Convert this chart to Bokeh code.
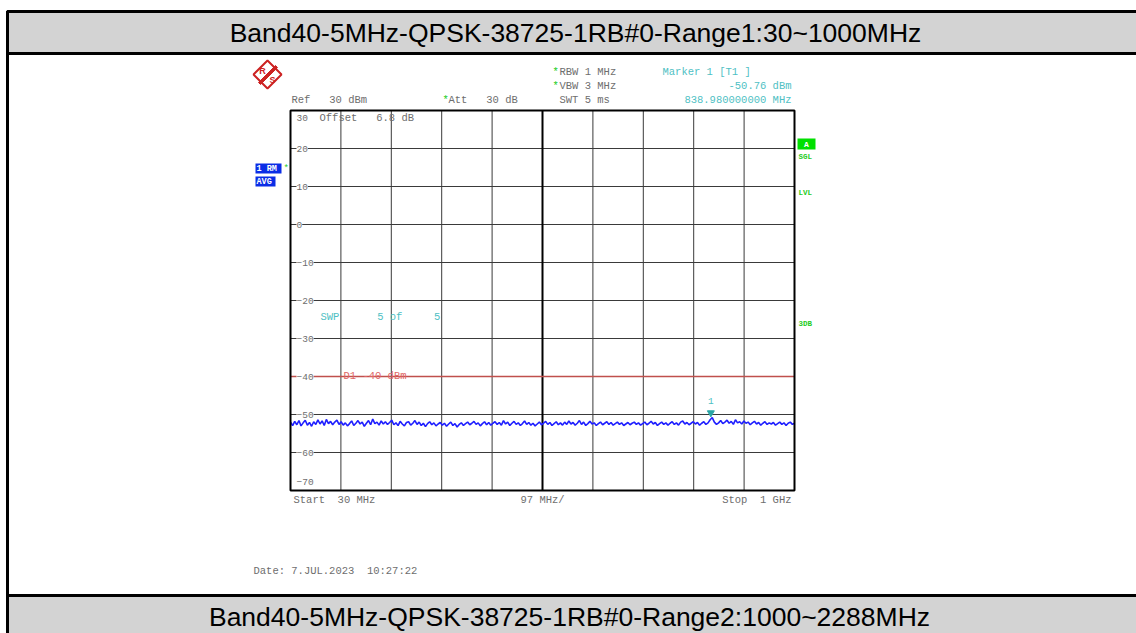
import numpy as np
from bokeh.plotting import figure
from bokeh.models import (Label, LabelSet, BoxAnnotation, PolyAnnotation,
                          ColumnDataSource, Range1d)
from bokeh.embed import file_html
from bokeh.resources import INLINE
from bokeh.core.properties import value

# ---------------- data ----------------
title_top = "Band40-5MHz-QPSK-38725-1RB#0-Range1:30~1000MHz"
title_bottom = "Band40-5MHz-QPSK-38725-1RB#0-Range2:1000~2288MHz"
start_mhz = 30
stop_mhz = 1000
span_per_div = 97
ref_level = 30
bottom_level = -70
y_ticks = [30, 20, 10, 0, -10, -20, -30, -40, -50, -60, -70]
display_line = -40
marker_freq = 838.98
marker_level = -50.76
trace_dbm = [
    -52.0, -52.9, -51.8, -52.7, -51.6, -53.0, -52.2, -51.5, -52.8, -52.1, -53.1, -51.9,
    -52.6, -51.4, -52.5, -51.7, -52.9, -51.3, -52.4, -51.8, -52.7, -52.0, -51.5, -52.6,
    -51.9, -52.8, -52.2, -53.0, -52.4, -51.7, -52.9, -52.3, -51.6, -52.5, -52.0, -53.1,
    -52.3, -51.6, -52.7, -51.2, -52.4, -52.0, -52.8, -51.7, -52.5, -51.9, -52.6, -52.1,
    -51.5, -52.7, -52.2, -52.9, -51.8, -52.5, -53.0, -52.1, -51.9, -52.8, -52.3, -51.6,
    -52.6, -52.0, -52.9, -52.3, -53.2, -52.4, -51.9, -52.7, -52.2, -53.0, -52.5, -52.1,
    -52.8, -52.3, -53.1, -52.5, -52.0, -52.9, -52.4, -53.3, -52.6, -52.2, -52.9, -52.4,
    -52.0, -52.7, -52.3, -51.8, -52.6, -52.2, -53.0, -52.4, -51.9, -52.7, -52.1, -52.8,
    -52.3, -51.9, -52.6, -52.1, -52.8, -51.6, -52.5, -52.0, -52.9, -52.3, -51.8, -52.6,
    -52.2, -52.9, -52.4, -51.7, -52.6, -52.1, -52.8, -52.3, -53.0, -52.5, -52.0, -52.7,
    -52.3, -51.8, -52.6, -52.1, -52.9, -52.4, -51.9, -52.7, -52.2, -52.8, -52.0, -52.6,
    -51.7, -52.5, -52.1, -52.8, -52.3, -51.6, -52.6, -52.0, -52.9, -52.4, -51.8, -52.5,
    -52.2, -52.9, -52.4, -52.0, -52.7, -52.3, -51.9, -52.6, -52.1, -52.8, -52.4, -52.0,
    -52.6, -52.2, -52.9, -52.5, -52.1, -52.7, -52.3, -52.0, -52.6, -52.2, -52.8, -52.4,
    -52.0, -52.7, -52.3, -51.8, -52.5, -52.1, -52.9, -52.4, -52.0, -52.6, -52.2, -52.8,
    -52.3, -51.9, -52.6, -52.2, -52.8, -52.0, -51.7, -52.5, -52.1, -52.7, -52.3, -51.9,
    -52.5, -52.1, -52.8, -52.3, -51.9, -52.6, -52.2, -51.4, -50.8, -52.0, -52.6, -52.2,
    -51.6, -52.4, -52.0, -51.5, -52.3, -51.8, -52.6, -51.4, -52.2, -51.9, -52.5, -51.7,
    -52.3, -52.0, -52.7, -52.2, -51.8, -52.5, -52.1, -52.8, -52.3, -51.9, -52.6, -52.2,
    -52.5, -52.1, -52.8, -52.4, -52.0, -52.6, -52.2, -52.9, -52.3, -52.0, -52.6, -52.3,
]
trace_freq = np.linspace(start_mhz, stop_mhz, len(trace_dbm))

# ---------------- layout (canvas pixels) ----------------
W, H = 1136, 633
PX_L, PX_R, PY_T, PY_B = 290, 794, 110, 490
MONO = "Liberation Mono"
GRAY = "#6e6e6e"
CYAN = "#4fbfc4"
GREEN = "#22cc22"
NB = "\u00a0"


def dx(px):
    return start_mhz + (px - PX_L) / (PX_R - PX_L) * (stop_mhz - start_mhz)


def dy(py):
    return ref_level - (py - PY_T) / (PY_B - PY_T) * (ref_level - bottom_level)


p = figure(width=W, height=H, output_backend="svg", toolbar_location=None,
           title=None,
           x_range=Range1d(dx(0), dx(W)), y_range=Range1d(dy(H), dy(0)),
           x_axis_location=None, y_axis_location=None,
           min_border=0)
p.background_fill_color = "white"
p.border_fill_color = "white"
p.outline_line_color = None
p.xgrid.visible = False
p.ygrid.visible = False


def box(left, right, top, bottom, fill=None, line="black", lw=3):
    p.add_layout(BoxAnnotation(left=left, right=right, top=top, bottom=bottom,
                               fill_color=fill if fill else "white",
                               fill_alpha=1 if fill else 0,
                               line_color=line, line_alpha=1 if line else 0,
                               line_width=lw))


# table decoration
box(dx(7), dx(1200), dy(11), dy(700))
box(dx(7), dx(1200), dy(11), dy(53), fill="#d3d3d3")
box(dx(7), dx(1200), dy(595), dy(700), fill="#d3d3d3")
p.add_layout(Label(x=dx(575), y=dy(32), text=title_top, text_align="center",
                   text_baseline="middle", text_font="Liberation Sans",
                   text_font_size="26.5px", text_color="black"))
p.add_layout(Label(x=dx(569), y=dy(616), text=title_bottom, text_align="center",
                   text_baseline="middle", text_font="Liberation Sans",
                   text_font_size="26.5px", text_color="black"))

# grid inside the spectrum frame
x_grid = [start_mhz + span_per_div * k for k in range(1, 10)]
p.segment(x0=x_grid, y0=[bottom_level] * len(x_grid), x1=x_grid,
          y1=[ref_level] * len(x_grid), line_color="#3a3a3a", line_width=1)
y_grid = y_ticks[1:-1]
p.segment(x0=[start_mhz] * len(y_grid), y0=y_grid, x1=[stop_mhz] * len(y_grid),
          y1=y_grid, line_color="#3a3a3a", line_width=1)
p.segment(x0=[start_mhz + span_per_div * 5], y0=[bottom_level],
          x1=[start_mhz + span_per_div * 5], y1=[ref_level],
          line_color="black", line_width=2)

# logo
p.add_layout(PolyAnnotation(xs=[dx(267), dx(281), dx(267), dx(253)],
                            ys=[dy(60), dy(74), dy(88), dy(74)],
                            fill_color="white", fill_alpha=1,
                            line_color="#cc2222", line_alpha=1, line_width=2))
p.add_layout(PolyAnnotation(xs=[dx(258), dx(275), dx(277), dx(260)],
                            ys=[dy(82), dy(65), dy(67), dy(84)],
                            fill_color="#cc2222", fill_alpha=1,
                            line_color="#cc2222", line_alpha=1, line_width=1))
p.add_layout(Label(x=dx(262), y=dy(70), text="R", text_align="center",
                   text_baseline="middle", text_font="Liberation Sans",
                   text_font_size="9px", text_font_style="bold", text_color="#cc2222"))
p.add_layout(Label(x=dx(272), y=dy(79), text="S", text_align="center",
                   text_baseline="middle", text_font="Liberation Sans",
                   text_font_size="9px", text_font_style="bold", text_color="#cc2222"))


def txt(px, py, s, color=GRAY, align="left", size="10.5px", style="normal", font=MONO):
    p.add_layout(Label(x=dx(px), y=dy(py), text=s.replace(" ", NB), text_align=align,
                       text_baseline="middle", text_font=font,
                       text_font_size=size, text_font_style=style,
                       text_color=color))


# header texts
txt(291, 99, "Ref   30 dBm")
txt(442, 99, "*", color=GREEN)
txt(448, 99, "Att   30 dB")
txt(552, 71, "*", color=GREEN)
txt(559, 71, "RBW 1 MHz")
txt(552, 85, "*", color=GREEN)
txt(559, 85, "VBW 3 MHz")
txt(559, 99, "SWT 5 ms")
txt(662, 71, "Marker 1 [T1 ]", color=CYAN)
txt(791, 85, "%.2f dBm" % marker_level, color=CYAN, align="right")
txt(791, 99, "%.9f MHz" % marker_freq, color=CYAN, align="right")

# left side blue boxes
for (t, b, s) in [(163, 173, "1 RM"), (176, 186, "AVG")]:
    box(dx(255), dx(275 if s == "AVG" else 281), dy(t), dy(b), fill="#0a2de6",
        line=None, lw=0)
    txt(256, (t + b) / 2, s, color="white", size="8.5px", style="bold")
txt(283, 168, "*", color=GREEN, size="9px")

# right side status
box(dx(797), dx(815), dy(138), dy(149), fill="#00e000", line=None, lw=0)
txt(806, 143.5, "A", color="white", align="center", size="8px", style="bold")
txt(798, 156, "SGL", color=GREEN, size="7.5px", style="bold")
txt(798, 192, "LVL", color=GREEN, size="7.5px", style="bold")
txt(798, 323, "3DB", color=GREEN, size="7.5px", style="bold")

# display line
p.segment(x0=[start_mhz], y0=[display_line], x1=[stop_mhz], y1=[display_line],
          line_color="#c0504d", line_width=1.5)

# trace
p.line(trace_freq, trace_dbm, line_color="#1f1fff", line_width=1.6)

# frame
box(start_mhz, stop_mhz, ref_level, bottom_level, lw=2)

# y tick labels inside frame
lab_y = [v if v not in (ref_level, bottom_level) else
         (dy(117) if v == ref_level else dy(481)) for v in y_ticks]
src = ColumnDataSource(dict(x=[dx(296)] * len(y_ticks), y=lab_y,
                            t=[("%d" % v).replace("-", "\u2212") if v < 0 else "%d" % v
                               for v in y_ticks]))
p.add_layout(LabelSet(x="x", y="y", text="t", source=src, text_baseline="middle",
                      text_font=value(MONO), text_font_size="9.5px", text_color=GRAY,
                      background_fill_color="white", background_fill_alpha=1))

txt(319, 117, "Offset   6.8 dB")
txt(320, 316, "SWP      5 of     5", color=CYAN)
txt(343, 375, "D1 %d dBm" % display_line, color="#e06666")

# marker
p.scatter([marker_freq], [marker_level + 1.2], marker="inverted_triangle", size=7,
          fill_color="#2aa6a6", line_color="#2aa6a6")
p.add_layout(Label(x=marker_freq, y=marker_level, text="1", text_align="center",
                   text_baseline="middle", y_offset=16, text_font=MONO,
                   text_font_size="9.5px", text_color=CYAN))

# bottom texts
txt(293, 499, "Start  %d MHz" % start_mhz)
txt(520, 499, "%d MHz/" % span_per_div)
txt(791, 499, "Stop  1 GHz", align="right")
txt(253, 570, "Date: 7.JUL.2023  10:27:22")

open("out.html", "w").write(file_html(p, INLINE))
